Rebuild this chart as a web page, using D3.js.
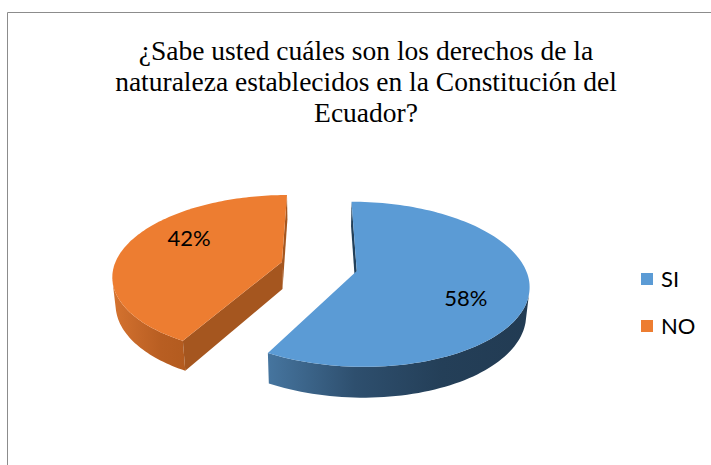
<!DOCTYPE html>
<meta charset="utf-8">
<style>
  body { margin: 0; background: #fff; }
  svg { display: block; }
  .title { font-family: "Liberation Serif", "Times New Roman", Times, "Nimbus Roman", "DejaVu Serif", serif; }
</style>
<svg id="chart" width="711" height="465"></svg>
<script src="https://cdn.jsdelivr.net/npm/d3@7/dist/d3.min.js"></script>
<script>

// data
var categories = ["SI", "NO"];
var values = [58, 42];
var titleLines = ["¿Sabe usted cuáles son los derechos de la",
                  "naturaleza establecidos en la Constitución del",
                  "Ecuador?"];

var topColors  = ["#5B9BD5", "#ED7D31"];
var wallStops  = [["#46759f", "#2e4f6e", "#243f58", "#223b53"],
                  ["#d5732f", "#c66829", "#b85e22", "#b35b1f"]];
var cutColors  = ["#22405a", "#a5561f"];

var svg = d3.select("#chart");

// frame
svg.append("path")
    .attr("d", "M7.5,465 V12.5 H711")
    .attr("fill", "none")
    .attr("stroke", "#8c8c8c")
    .attr("stroke-width", 1);

// title
var title = svg.append("g")
  .selectAll("text")
  .data(titleLines)
  .enter().append("text")
    .attr("class", "title")
    .attr("x", 366)
    .attr("y", function(d, i) { return 60 + i * 31; })
    .attr("text-anchor", "middle")
    .attr("font-size", 27.5)
    .attr("fill", "#000")
    .text(function(d) { return d; });

// 3d projection (unit radius disk, camera above and in front)
var R = 1, D = 5.52, f = 927, tilt = Math.asin(0.47), thick = 0.187, explode = 0.23;
var cx = 319, cy = 266.4;
var cam = [0, D * Math.sin(tilt), D * Math.cos(tilt)];

function project(X, Y, Z) {
  var yc = Z * Math.sin(tilt) - Y * Math.cos(tilt),
      zc = D - Z * Math.cos(tilt) - Y * Math.sin(tilt);
  return [cx + f * X / zc, cy + f * yc / zc];
}
function rim(c, a, r, Y) {
  return project(c[0] + r * Math.sin(a), Y, c[1] - r * Math.cos(a));
}
function facing(P, n) {
  return (cam[0] - P[0]) * n[0] + (cam[1] - P[1]) * n[1] + (cam[2] - P[2]) * n[2] > 0;
}

var pie = d3.pie().sort(null)(values);
var line = d3.line();
var defs = svg.append("defs");
var g = svg.append("g");

pie.forEach(function(s, i) {
  var mid = (s.startAngle + s.endAngle) / 2;
  var c = [explode * Math.sin(mid), -explode * Math.cos(mid)];
  var steps = 120, angles = d3.range(steps + 1).map(function(k) {
    return s.startAngle + (s.endAngle - s.startAngle) * k / steps;
  });

  // outer wall, visible runs only
  var runs = [], cur = null;
  angles.forEach(function(a) {
    var n = [Math.sin(a), 0, -Math.cos(a)];
    var P = [c[0] + n[0], -thick / 2, c[1] + n[2]];
    if (facing(P, n)) { if (!cur) { cur = []; runs.push(cur); } cur.push(a); }
    else cur = null;
  });
  runs.forEach(function(run, j) {
    var pts = run.map(function(a) { return rim(c, a, R, 0); })
      .concat(run.slice().reverse().map(function(a) { return rim(c, a, R, -thick); }));
    var xs = d3.extent(pts, function(p) { return p[0]; });
    var id = "wall" + i + "_" + j;
    var grad = defs.append("linearGradient").attr("id", id)
        .attr("gradientUnits", "userSpaceOnUse")
        .attr("x1", xs[0]).attr("x2", xs[1]).attr("y1", 0).attr("y2", 0);
    wallStops[i].forEach(function(col, k, arr) {
      grad.append("stop").attr("offset", k / (arr.length - 1)).attr("stop-color", col);
    });
    g.append("path").attr("d", line(pts) + "Z").attr("fill", "url(#" + id + ")");
  });

  // cut faces
  [[s.startAngle, -1], [s.endAngle, 1]].forEach(function(e) {
    var a = e[0], n = [e[1] * Math.cos(a), 0, e[1] * Math.sin(a)];
    var P = [c[0] + 0.5 * Math.sin(a), -thick / 2, c[1] - 0.5 * Math.cos(a)];
    if (!facing(P, n)) return;
    var pts = [project(c[0], 0, c[1]), rim(c, a, R, 0), rim(c, a, R, -thick), project(c[0], -thick, c[1])];
    g.append("path").attr("d", line(pts) + "Z").attr("fill", cutColors[i]);
  });

  // top face
  var top = [project(c[0], 0, c[1])].concat(angles.map(function(a) { return rim(c, a, R, 0); }));
  g.append("path").attr("d", line(top) + "Z").attr("fill", topColors[i]);

  // label
  var lp = rim(c, mid + 14 * Math.PI / 180, 0.68, 0);
  g.append("text")
      .attr("x", lp[0]).attr("y", lp[1])
      .attr("dy", "0.35em")
      .attr("text-anchor", "middle")
      .attr("font-family", "Lato, 'Noto Sans', sans-serif")
      .attr("font-size", 22)
      .attr("fill", "#000")
      .text(Math.round(s.value / d3.sum(values) * 100) + "%");
});

// legend
var legend = svg.append("g")
  .selectAll("g")
  .data(categories)
  .enter().append("g")
    .attr("transform", function(d, i) { return "translate(641," + (273 + i * 47) + ")"; });
legend.append("rect")
    .attr("width", 12).attr("height", 12)
    .attr("fill", function(d, i) { return topColors[i]; });
legend.append("text")
    .attr("x", 20).attr("y", 14)
    .attr("font-family", "Lato, 'Noto Sans', sans-serif")
    .attr("font-size", 22)
    .attr("fill", "#000")
    .text(function(d) { return d; });
</script>
